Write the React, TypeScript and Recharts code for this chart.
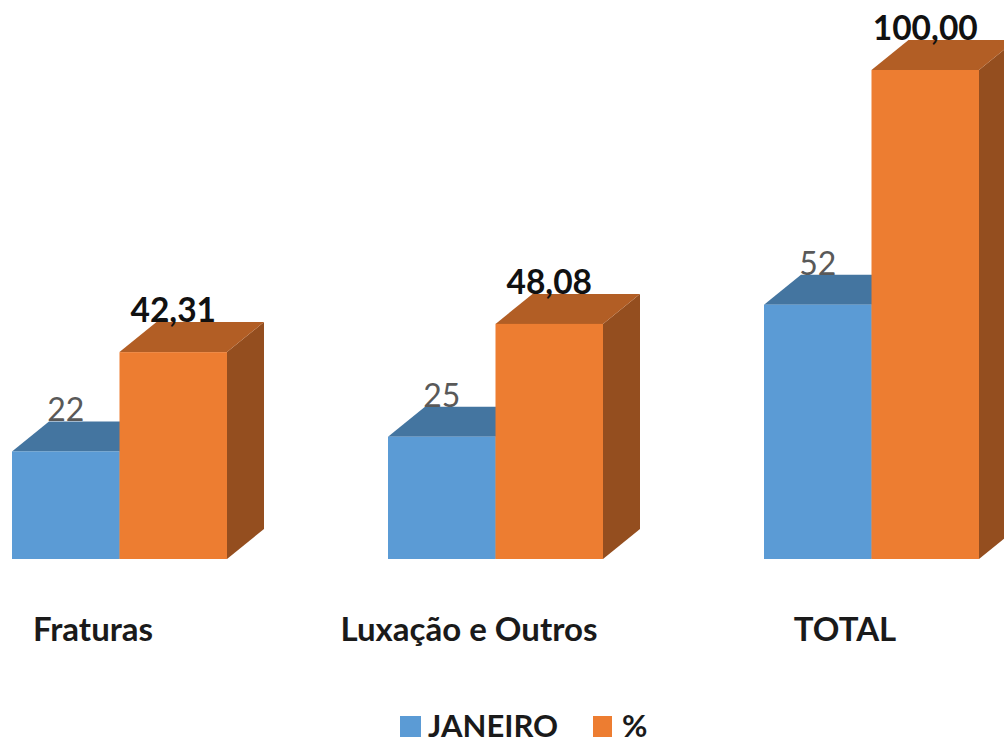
import { BarChart, Bar, XAxis, YAxis, LabelList, Legend } from "recharts";

const categories = ["Fraturas", "Luxação e Outros", "TOTAL"];
const janeiro = [22, 25, 52];
const percent = [42.31, 48.08, 100];
const percentLabels = ["42,31", "48,08", "100,00"];

const data = categories.map((name, i) => ({
  name,
  janeiro: janeiro[i],
  percent: percent[i],
  percentLabel: percentLabels[i],
}));

const FONT = "Lato, 'Open Sans', sans-serif";
const BLUE = { front: "#5b9bd5", top: "#4475a0", side: "#355a7c" };
const ORANGE = { front: "#ed7d31", top: "#b25e25", side: "#944e1f" };
const DX = 37;
const DY = 30;

// fake 3D box: front face plus top and side faces
function Box3D(props: any, c: typeof BLUE) {
  const { x, y, width, height } = props;
  return (
    <g>
      <path
        d={`M${x + width},${y} l${DX},${-DY} v${height} l${-DX},${DY} z`}
        fill={c.side}
      />
      <path
        d={`M${x},${y} l${DX},${-DY} h${width} l${-DX},${DY} z`}
        fill={c.top}
      />
      <rect x={x} y={y} width={width} height={height} fill={c.front} />
    </g>
  );
}

function CategoryTick({ x, y, payload }: any) {
  return (
    <text x={x - 26} y={y + 74} textAnchor="middle" fontFamily={FONT} fontWeight={700} fontSize={33} fill="#1a1a1a">
      {payload.value}
    </text>
  );
}

function legendContent({ payload }: any) {
  const spots = [
    { box: 469, w: 21, text: 497 },
    { box: 662, w: 19, text: 691 },
  ];
  return (
    <div>
      {(payload ?? []).map((p: any, i: number) => (
        <div key={p.value}>
          <div style={{ position: "absolute", left: spots[i].box, top: 716, width: spots[i].w, height: 21, background: p.color }} />
          <div style={{ position: "absolute", left: spots[i].text, top: 711, fontFamily: FONT, fontWeight: 700, fontSize: 31, lineHeight: "28px", color: "#1a1a1a", whiteSpace: "nowrap" }}>
            {p.value}
          </div>
        </div>
      ))}
    </div>
  );
}

export default function App() {
  return (
    <div style={{ position: "absolute", left: 0, top: 0, width: 1004, height: 739, overflow: "hidden", background: "#fff" }}>
      <div style={{ position: "absolute", left: -69, top: 0 }}>
        <BarChart
          width={1128}
          height={739}
          data={data}
          margin={{ top: 70, right: 0, bottom: 120, left: 0 }}
          barSize={107.5}
          barGap={0}
        >
          <XAxis dataKey="name" axisLine={false} tickLine={false} height={60} interval={0} tick={CategoryTick} />
          <YAxis hide domain={[0, 100]} />
          <Legend
            content={legendContent}
            itemSorter={null}
            wrapperStyle={{ position: "absolute", left: 0, top: 0, bottom: "auto", width: 0, height: 0 }}
          />
          <Bar dataKey="janeiro" name="JANEIRO" fill={BLUE.front} isAnimationActive={false} shape={(p: any) => Box3D(p, BLUE)}>
            <LabelList
              dataKey="janeiro"
              position="top"
              offset={30}
              style={{ fontFamily: FONT, fontSize: 32, fontWeight: 400, fill: "#595959" }}
            />
          </Bar>
          <Bar dataKey="percent" name="%" fill={ORANGE.front} isAnimationActive={false} shape={(p: any) => Box3D(p, ORANGE)}>
            <LabelList
              dataKey="percentLabel"
              position="top"
              offset={30}
              style={{ fontFamily: FONT, fontSize: 33.5, fontWeight: 700, fill: "#111" }}
            />
          </Bar>
        </BarChart>
      </div>
    </div>
  );
}
